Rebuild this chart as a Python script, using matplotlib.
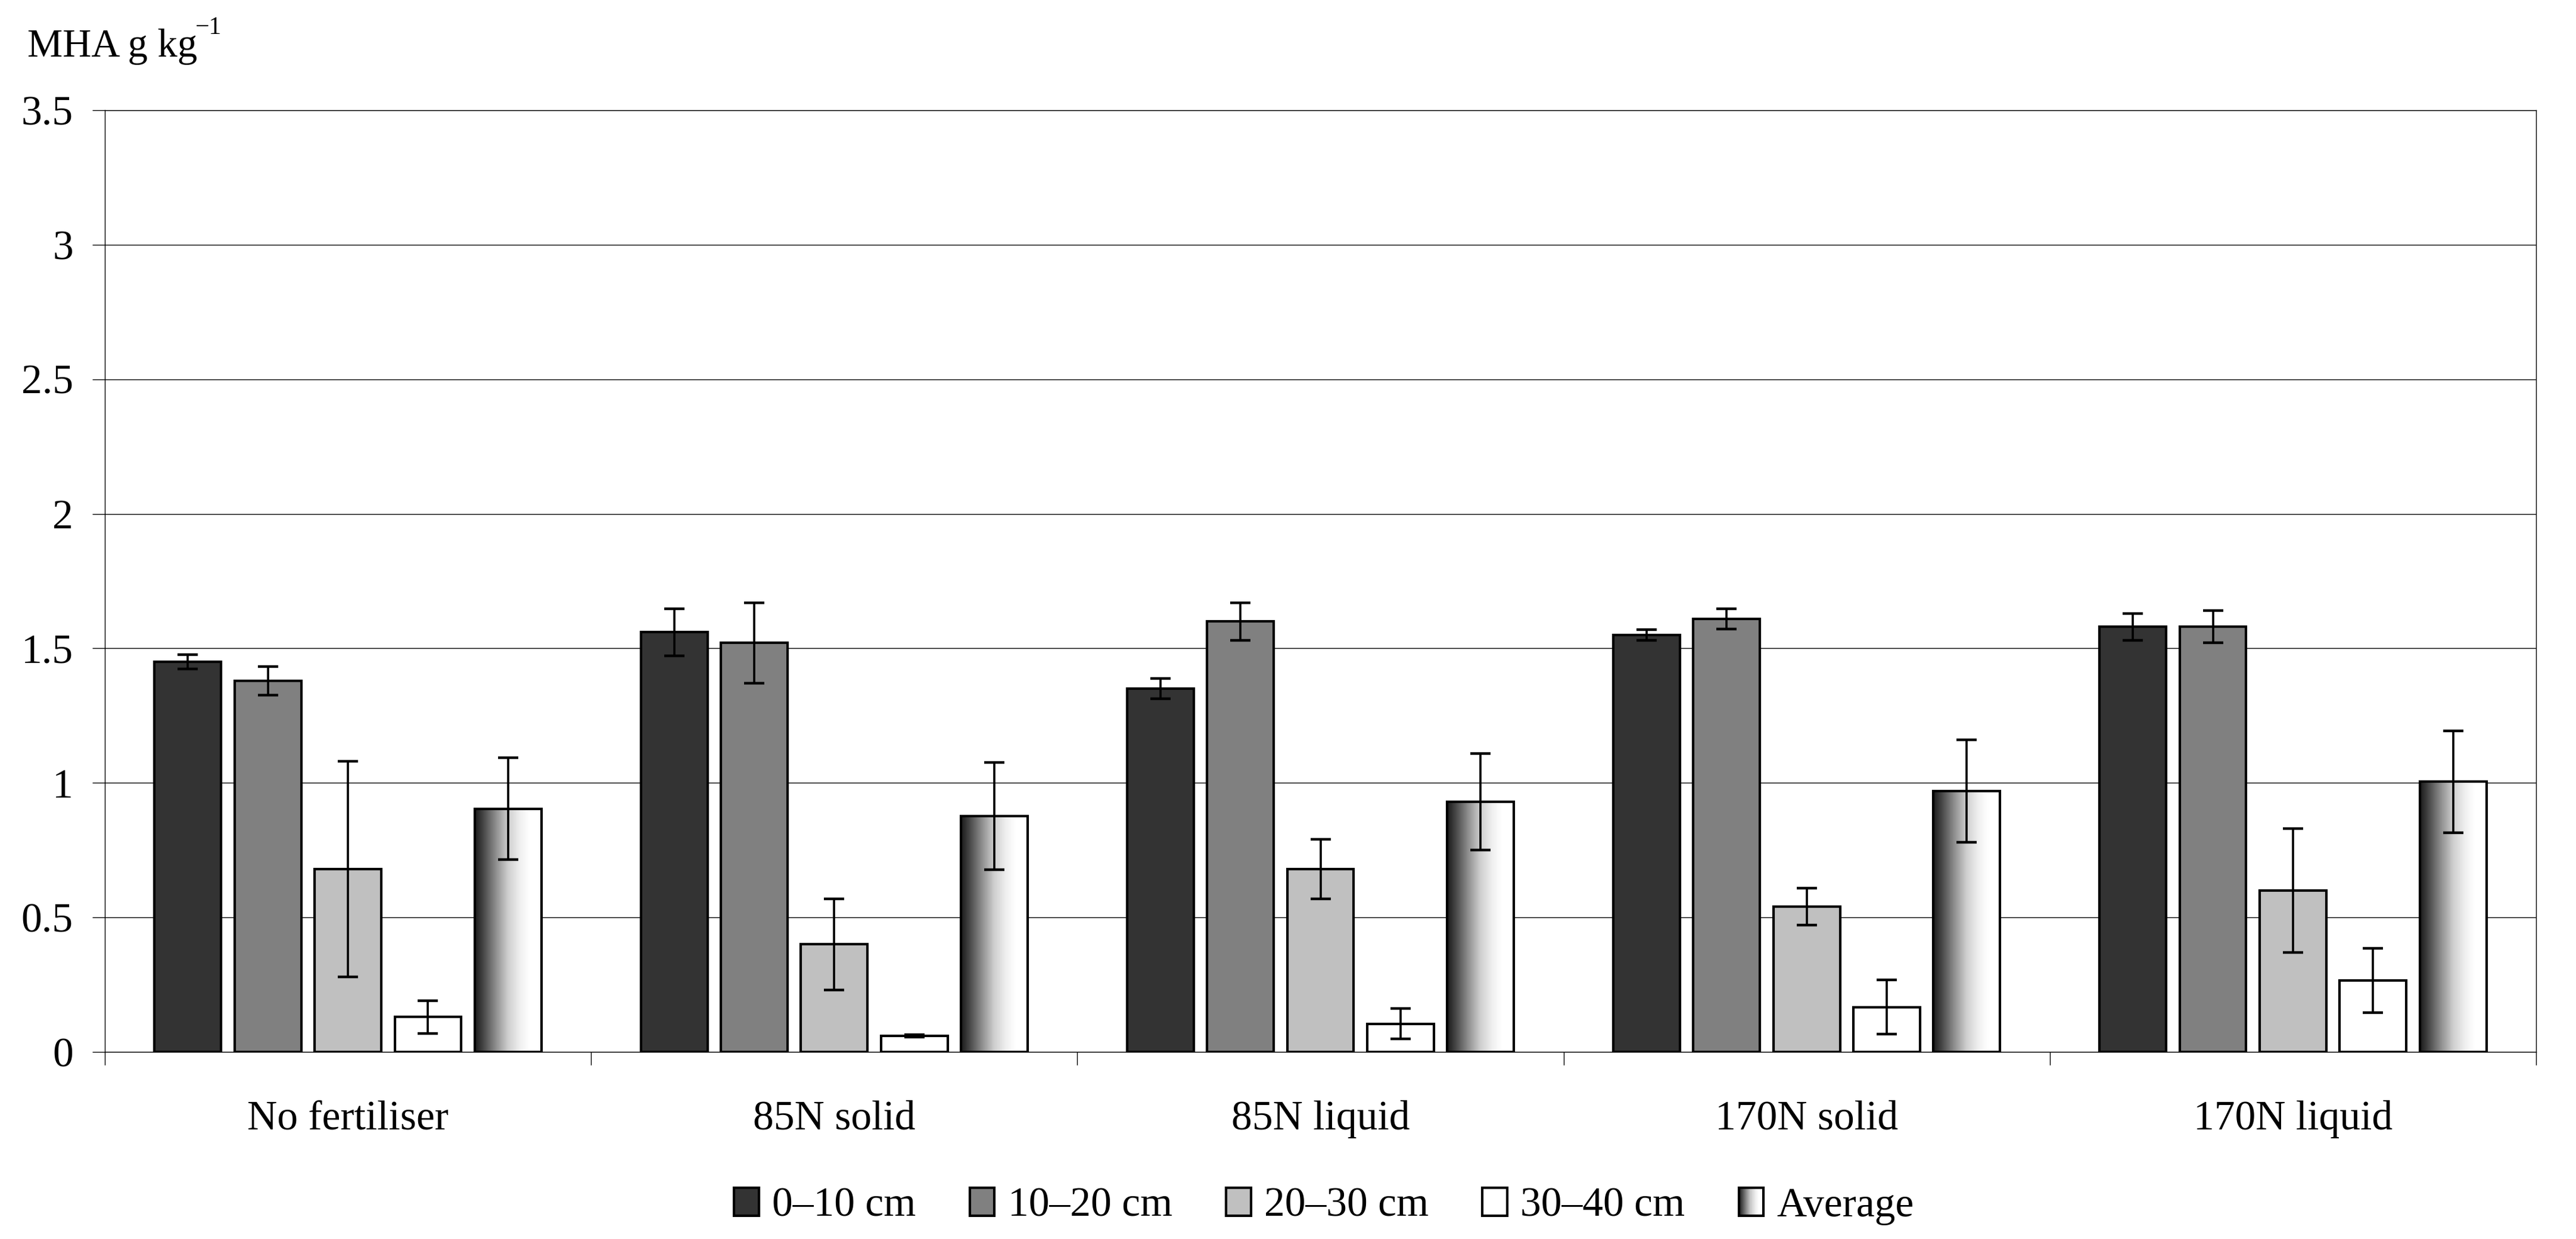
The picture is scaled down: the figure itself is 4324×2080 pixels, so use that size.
import numpy as np
import matplotlib
matplotlib.use("Agg")
import matplotlib.pyplot as plt
from matplotlib.patches import Rectangle, Patch
from matplotlib.legend_handler import HandlerBase
from matplotlib.colors import LinearSegmentedColormap
from matplotlib.ticker import FixedLocator, FormatStrFormatter

plt.rcParams['font.family'] = ['Liberation Serif', 'DejaVu Serif']

# ---------------- data ----------------
categories = ["No fertiliser", "85N solid", "85N liquid", "170N solid", "170N liquid"]
series_labels = ["0\u201310 cm", "10\u201320 cm", "20\u201330 cm", "30\u201340 cm", "Average"]

d0_10 = [1.45, 1.56, 1.35, 1.55, 1.58]
e0_10 = [0.026, 0.087, 0.038, 0.020, 0.050]
d10_20 = [1.38, 1.52, 1.60, 1.61, 1.58]
e10_20 = [0.053, 0.149, 0.070, 0.038, 0.060]
d20_30 = [0.68, 0.40, 0.68, 0.54, 0.60]
e20_30 = [0.40, 0.17, 0.11, 0.069, 0.23]
d30_40 = [0.13, 0.06, 0.105, 0.167, 0.266]
e30_40 = [0.061, 0.005, 0.057, 0.100, 0.120]
d_avg = [0.904, 0.877, 0.930, 0.970, 1.004]
e_avg = [0.19, 0.20, 0.18, 0.19, 0.19]

yticks = [0, 0.5, 1, 1.5, 2, 2.5, 3, 3.5]

series_values = [d0_10, d10_20, d20_30, d30_40, d_avg]
series_errors = [e0_10, e10_20, e20_30, e30_40, e_avg]
face_colors = ['#333333', '#808080', '#c0c0c0', '#ffffff', None]

grad_cmap = LinearSegmentedColormap.from_list(
    'avg', [(0.0, '#1a1a1a'), (0.12, '#444444'), (0.32, '#909090'),
            (0.5, '#cfcfcf'), (0.68, '#f0f0f0'), (0.82, '#ffffff'), (1.0, '#ffffff')])

FS = 25
EDGE_LW = 1.5

fig = plt.figure(figsize=(21.62, 10.40), dpi=200)
W, H = 4324, 2080
ax = fig.add_axes([176 / W, 1 - 1766 / H, (4257 - 176) / W, (1766 - 185) / H])

x = np.arange(len(categories))
bar_w = 0.137
step = 0.1646

for i, (vals, errs, fc) in enumerate(zip(series_values, series_errors, face_colors)):
    pos = x + (i - 2) * step
    if fc is None:
        bars = ax.bar(pos, vals, width=bar_w, facecolor='none', edgecolor='black',
                      linewidth=EDGE_LW, zorder=3)
        grad = np.linspace(0, 1, 256).reshape(1, -1)
        for p in bars.patches:
            bb = p.get_bbox()
            ax.imshow(grad, cmap=grad_cmap, extent=(bb.x0, bb.x1, bb.y0, bb.y1),
                      aspect='auto', zorder=2.5, interpolation='bilinear')
    else:
        ax.bar(pos, vals, width=bar_w, facecolor=fc, edgecolor='black',
               linewidth=EDGE_LW, zorder=3)
    ax.errorbar(pos, vals, yerr=errs, fmt='none', ecolor='black', elinewidth=1.3,
                capsize=6, capthick=1.6, zorder=4)

ax.set_xlim(-0.5, len(categories) - 0.5)
ax.set_ylim(0, 3.5)
ax.set_aspect('auto')

# y axis
ax.yaxis.set_major_locator(FixedLocator(yticks))
ax.yaxis.set_major_formatter(FormatStrFormatter('%g'))
ax.tick_params(axis='y', which='major', direction='out', length=7.6, width=0.5,
               pad=11.5, labelsize=FS, colors='black')
ax.grid(axis='y', color='black', linewidth=0.5, zorder=0)
ax.set_axisbelow(True)

# x axis
ax.set_xticks(x)
ax.set_xticklabels(categories)
ax.set_xticks(np.arange(-0.5, len(categories)), minor=True)
ax.tick_params(axis='x', which='major', length=0, pad=29, labelsize=FS)
ax.tick_params(axis='x', which='minor', direction='out', length=8, width=0.5)

for s in ['left', 'bottom', 'right', 'top']:
    ax.spines[s].set_linewidth(0.5)
    ax.spines[s].set_color('black')

# y label at top left, with raised superscript
fig.text(46 / W, 1 - 95 / H, 'MHA g kg', fontsize=24, ha='left', va='baseline')
fig.text(328 / W, 1 - 57 / H, '\u22121', fontsize=15, ha='left', va='baseline')


class HandlerGradient(HandlerBase):
    def create_artists(self, legend, orig_handle, xdescent, ydescent, width, height,
                       fontsize, trans):
        n = 40
        arts = []
        for k in range(n):
            t = (k + 0.5) / n
            arts.append(Rectangle((-xdescent + width * k / n, -ydescent), width / n * 1.05,
                                  height, facecolor=grad_cmap(t), edgecolor='none',
                                  transform=trans))
        arts.append(Rectangle((-xdescent, -ydescent), width, height, facecolor='none',
                              edgecolor='black', linewidth=EDGE_LW, transform=trans))
        return arts


handles = []
for lab, fc in zip(series_labels, face_colors):
    if fc is None:
        handles.append(Patch(facecolor='none', edgecolor='black', label=lab))
    else:
        handles.append(Patch(facecolor=fc, edgecolor='black', linewidth=EDGE_LW, label=lab))

fig.legend(handles=handles, labels=series_labels, loc='center',
           bbox_to_anchor=(0.514, 1 - 2025 / H), ncol=5, frameon=False, fontsize=FS,
           handlelength=0.6, handleheight=0.65, handletextpad=0.32, columnspacing=1.3,
           handler_map={handles[-1]: HandlerGradient()})

fig.savefig('out.png', dpi=200)
